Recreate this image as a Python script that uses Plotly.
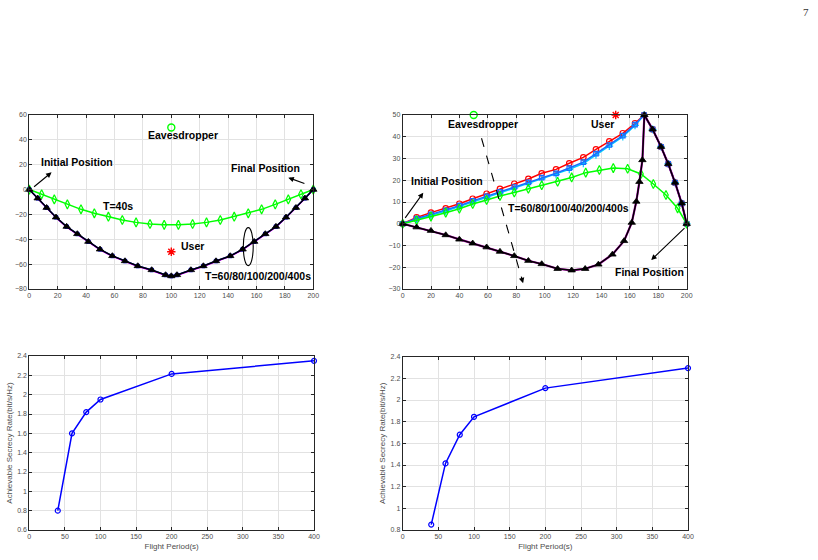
import plotly.graph_objects as go

# ---------------- data ----------------
# Top-left: trajectories (x, y in m)
tl_t40_x = [0, 8.7, 17.6, 26.8, 36.4, 45.8, 55.7, 65.5, 75.2, 85, 95, 105, 115, 124.8, 134.5, 144.3, 154.2, 163.6, 173.2, 182.4, 191.3, 200]
tl_t40_y = [0, -3.8, -7.9, -11.9, -15.9, -19.1, -21.8, -24.5, -26.4, -27.7, -28.4, -28.4, -27.7, -26.4, -24.5, -21.8, -19.1, -15.9, -11.9, -7.9, -3.8, 0]
tl_long_x = [0, 5.9, 12.2, 18.8, 26.3, 33.8, 41.6, 49.8, 58.5, 67.4, 76.4, 86.2, 96, 100, 104, 113.8, 122.6, 131.5, 141.5, 150.2, 158.4, 166.2, 173.7, 180.8, 187.8, 194.1, 200]
tl_long_y = [0, -7, -14.6, -22.3, -29.8, -35.7, -41.9, -48.1, -53.4, -57.5, -61.5, -64.7, -68.7, -69.6, -68.7, -64.7, -61.5, -57.5, -53.4, -48.1, -41.9, -35.7, -29.8, -22.3, -14.6, -7, 0]
tl_long_y_pink = [0, -7.4, -15.1, -22.8, -30.3, -36.2, -42.4, -48.6, -53.9, -58.0, -62.0, -65.2, -69.2, -70.1, -69.2, -65.2, -62.0, -58.0, -53.9, -48.6, -42.4, -36.2, -30.3, -22.8, -15.1, -7.4, 0]

# Top-right: trajectories
tr_red_x = [0, 9.8, 19.9, 30.3, 39.9, 49.3, 59.1, 68.5, 78.6, 88.5, 97.9, 108, 117.3, 127.2, 136.1, 145.5, 155, 163.6, 170, 176, 181.9, 187, 191.8, 196.5, 200]
tr_red_y = [0, 2.9, 5.1, 7.1, 9.2, 11.5, 13.8, 16, 18.4, 20.6, 23.2, 25, 27.8, 30.5, 34.2, 37.9, 41.6, 46.2, 50, 43.4, 35.4, 27.5, 18.9, 9.4, 0]
tr_blue_y = [0, 2.4, 4.3, 6.2, 8.3, 10.5, 12.6, 14.7, 16.9, 19, 21.2, 23.2, 25.6, 28.3, 32.2, 36.2, 40.5, 45.6, 50, 43.4, 35.4, 27.5, 18.9, 9.4, 0]
tr_cyan_y = [0, 2.0, 3.9, 5.8, 7.9, 10.0, 12.1, 14.2, 16.4, 18.5, 20.6, 22.6, 25.0, 27.7, 31.6, 35.7, 40.0, 45.2, 50, 43.4, 35.4, 27.5, 18.9, 9.4, 0]
tr_green_x = [0, 9.8, 19.9, 30.3, 39.9, 49.3, 59.1, 68.5, 78.6, 88.5, 97.9, 109.1, 119, 128.9, 138.5, 148.3, 158.4, 167.8, 176.5, 185.4, 193.6, 200]
tr_green_y = [0, 1.6, 3.3, 5.1, 6.9, 9.1, 10.9, 12.8, 14.4, 16.1, 17.7, 19.3, 21.3, 23.5, 24.7, 25.6, 25.3, 22.9, 18.3, 13.2, 7.1, 0]
tr_black_x = [0, 9.8, 19.9, 30.3, 39.9, 49.3, 59.1, 68.5, 78.6, 88.5, 97.9, 109.1, 119, 128.5, 137.8, 147.7, 155.9, 161.3, 164.5, 166.7, 168.8, 170.2, 176, 181.9, 187, 191.8, 196.5, 200]
tr_black_y = [0, -1.6, -3.2, -5.2, -7.2, -9, -10.8, -12.8, -14.8, -17, -18.5, -20.7, -21.4, -20.7, -18.7, -14.1, -7.9, 0.5, 10.2, 19.3, 29.3, 50, 43.4, 35.4, 27.5, 18.9, 9.4, 0]

# Node positions
tl_eve = (100, 50)
tl_user = (100, -50)
tr_eve = (50, 50)
tr_user = (150, 50)

# Bottom: secrecy rate vs flight period
periods = [40, 60, 80, 100, 200, 400]
bl_rate = [0.8, 1.6, 1.82, 1.95, 2.215, 2.35]
br_rate = [0.85, 1.415, 1.68, 1.845, 2.11, 2.295]

# ---------------- figure ----------------
GREEN = '#00ff00'
fig = go.Figure()

def tr(x, y, xa, ya, color, symbol=None, msize=6, mfill=None, width=1.5, mlw=1.2):
    mode = 'lines+markers' if symbol else 'lines'
    marker = dict(symbol=symbol, size=msize, color=mfill if mfill else color,
                  line=dict(color=color, width=mlw)) if symbol else None
    fig.add_trace(go.Scatter(x=x, y=y, xaxis=xa, yaxis=ya, mode=mode,
                             line=dict(color=color, width=width), cliponaxis=False,
                             marker=marker, showlegend=False, hoverinfo='skip'))

def node(pt, xa, ya, symbol, color, size):
    fig.add_trace(go.Scatter(x=[pt[0]], y=[pt[1]], xaxis=xa, yaxis=ya, mode='markers',
                             cliponaxis=False,
                             marker=dict(symbol=symbol, size=size, color=color,
                                         line=dict(width=1.4, color=color)),
                             showlegend=False, hoverinfo='skip'))

# top-left
tr(tl_t40_x, tl_t40_y, 'x', 'y', GREEN, 'diamond-tall-open', 6.5)
tr(tl_long_x, tl_long_y_pink, 'x', 'y', '#ff00ff', width=1.2)
tr(tl_long_x, tl_long_y, 'x', 'y', '#0000ff', 'square-open', 3.5, mlw=1)
tr(tl_long_x, tl_long_y, 'x', 'y', '#000000', 'triangle-up', 6.5, '#000000', mlw=0.8)
node(tl_eve, 'x', 'y', 'circle-open', GREEN, 7)
node(tl_user, 'x', 'y', 'asterisk-open', 'red', 7)

# top-right
tr(tr_red_x, tr_red_y, 'x2', 'y2', '#ff0000', 'circle-open', 5.5)
tr(tr_red_x, tr_cyan_y, 'x2', 'y2', '#00ccff', 'cross-thin-open', 5.5)
tr(tr_red_x, tr_blue_y, 'x2', 'y2', '#1a6bff', 'square-open', 4.5)
tr(tr_green_x, tr_green_y, 'x2', 'y2', GREEN, 'diamond-tall-open', 6.5)
tr(tr_black_x, tr_black_y, 'x2', 'y2', '#b000b0', width=2.2)
tr(tr_black_x, tr_black_y, 'x2', 'y2', '#000000', 'triangle-up', 6.5, '#000000', mlw=0.8)
node(tr_eve, 'x2', 'y2', 'circle-open', GREEN, 7)
node(tr_user, 'x2', 'y2', 'asterisk-open', 'red', 7)

# bottom
tr(periods, bl_rate, 'x3', 'y3', '#0000ff', 'circle-open', 5)
tr(periods, br_rate, 'x4', 'y4', '#0000ff', 'circle-open', 5)

# ---------------- axes ----------------
TICKFONT = dict(family='Liberation Sans, Arial, sans-serif', size=7, color='#4d4d4d')
TITLEFONT = dict(family='Liberation Sans, Arial, sans-serif', size=8, color='#4d4d4d')

def axis(domain, rng, dtick, anchor, title=None, standoff=4):
    d = dict(domain=domain, range=rng, dtick=dtick, tick0=0, anchor=anchor,
             showgrid=True, gridcolor='#e2e2e2', gridwidth=1, zeroline=False,
             showline=True, linecolor='#262626', linewidth=1, mirror='ticks',
             ticks='inside', ticklen=3, tickcolor='#262626', tickfont=TICKFONT,
             automargin=False)
    if title:
        d['title'] = dict(text=title, font=TITLEFONT, standoff=standoff)
    return d

W, H = 818, 560
def px(a, b):
    return [a / W, b / W]
def py(top, bottom):
    return [(H - bottom) / H, (H - top) / H]

fig.update_layout(
    width=W, height=H, margin=dict(l=0, r=0, t=0, b=0),
    paper_bgcolor='white', plot_bgcolor='white', showlegend=False,
    xaxis=axis(px(29.3, 313.3), [0, 200], 20, 'y'),
    yaxis=axis(py(115, 289), [-80, 60], 20, 'x'),
    xaxis2=axis(px(402.7, 686.7), [0, 200], 20, 'y2'),
    yaxis2=axis(py(115, 289), [-30, 50], 10, 'x2'),
    xaxis3=axis(px(29.3, 314), [0, 400], 50, 'y3', 'Flight Period(s)', 3),
    yaxis3=axis(py(356, 530), [0.6, 2.4], 0.2, 'x3', 'Achievable Secrecy Rate(bit/s/Hz)', 3),
    xaxis4=axis(px(402.7, 688), [0, 400], 50, 'y4', 'Flight Period(s)', 3),
    yaxis4=axis(py(356.7, 530), [0.8, 2.4], 0.2, 'x4', 'Achievable Secrecy Rate(bit/s/Hz)', 3),
)

# ---------------- annotations ----------------
AFONT = dict(family='Liberation Sans, Arial, sans-serif', size=10.5, color='black')
ann = []
def label(text, x, y, xr, yr):
    ann.append(dict(text='<b>' + text + '</b>', x=x, y=y, xref=xr, yref=yr,
                    showarrow=False, font=AFONT, xanchor='center', yanchor='middle'))
def arrow(xh, yh, xt, yt, xr, yr):
    ann.append(dict(text='', x=xh, y=yh, ax=xt, ay=yt, xref=xr, yref=yr,
                    axref=xr, ayref=yr, showarrow=True, arrowhead=2, arrowsize=1,
                    arrowwidth=1.1, arrowcolor='black'))

# top-left
label('Eavesdropper', 108, 43.9, 'x', 'y')
label('User', 114.6, -45.1, 'x', 'y')
label('Initial Position', 33.8, 21.9, 'x', 'y')
label('Final Position', 166, 17.1, 'x', 'y')
label('T=40s', 62.7, -13.2, 'x', 'y')
label('T=60/80/100/200/400s', 161.3, -69.5, 'x', 'y')
arrow(15.7, 13.9, 2.3, 1.3, 'x', 'y')
arrow(182.4, 9.6, 194.8, 4.5, 'x', 'y')

# top-right
label('Eavesdropper', 56.7, 45.9, 'x2', 'y2')
label('User', 141, 46, 'x2', 'y2')
label('Initial Position', 31, 19.7, 'x2', 'y2')
label('T=60/80/100/40/200/400s', 117, 7.1, 'x2', 'y2')
label('Final Position', 174, -22, 'x2', 'y2')
arrow(14.5, 14.3, 1, 2, 'x2', 'y2')
arrow(175, -16.7, 199.5, -1.3, 'x2', 'y2')
arrow(84.8, -27.4, 84.0, -25.6, 'x2', 'y2')

# page number
ann.append(dict(text='7', x=806 / W, y=1 - 12 / H, xref='paper', yref='paper', showarrow=False,
                font=dict(family='Liberation Serif, Times New Roman, serif', size=11, color='#333333'),
                xanchor='center', yanchor='middle'))
fig.update_layout(annotations=ann)

# shapes: ellipse and dashed arrow shaft
fig.update_layout(shapes=[
    dict(type='circle', xref='x', yref='y', x0=150.7, x1=157.7, y0=-61.2, y1=-30.6,
         line=dict(color='black', width=1.1)),
    dict(type='line', xref='x2', yref='y2', x0=55.5, y0=39.3, x1=84.3, y1=-26.2,
         line=dict(color='black', width=1.1, dash='dash')),
])

fig.write_html('out.html')
